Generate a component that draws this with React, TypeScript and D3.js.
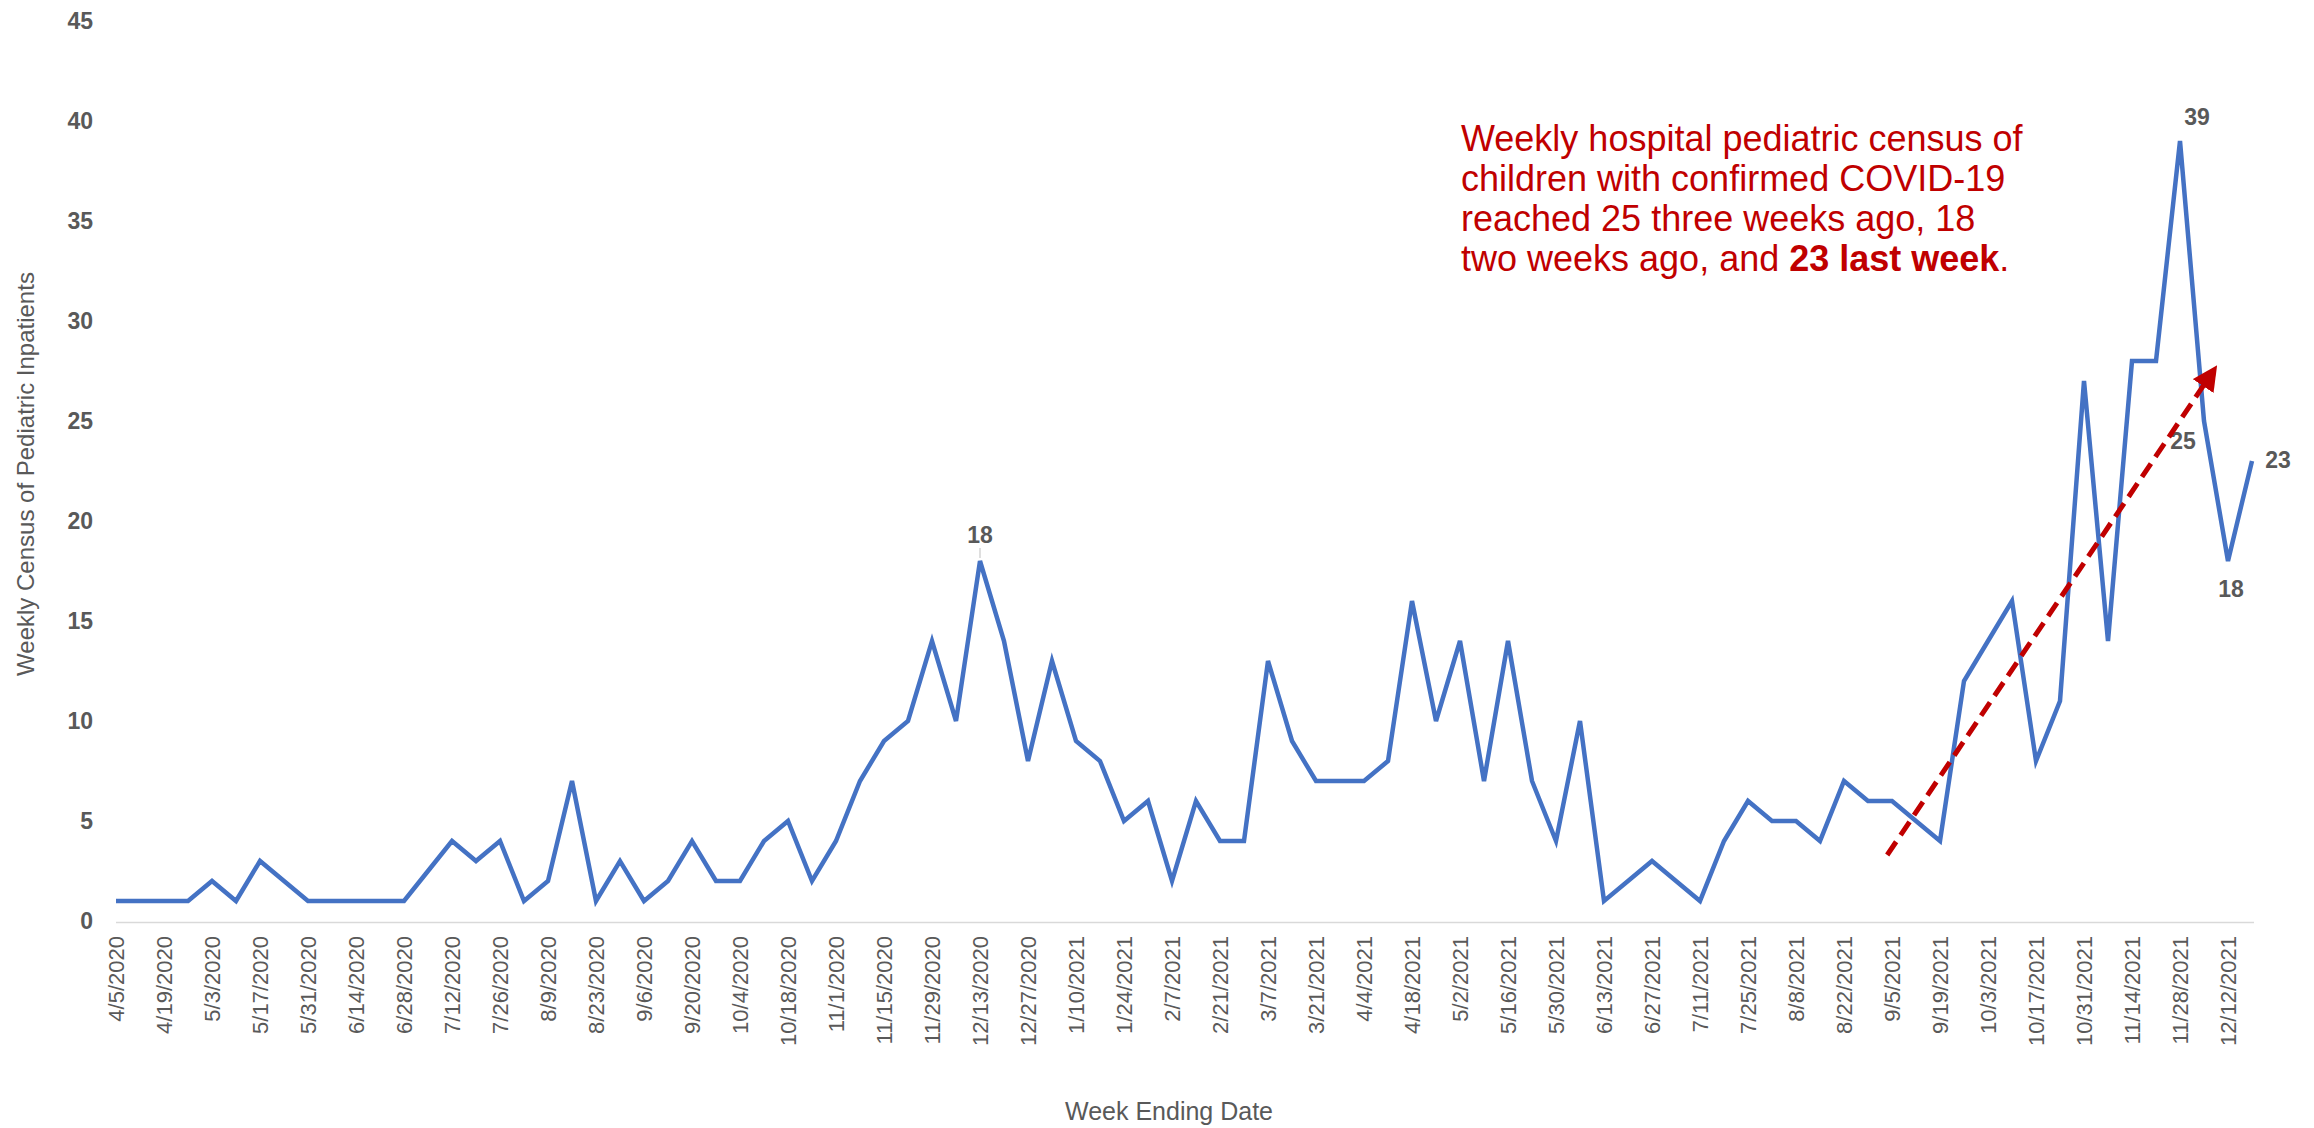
import React, { useEffect, useRef } from 'react';
import * as d3 from 'd3';

// first week ending date, weekly categories
const FIRST_WEEK = Date.UTC(2020, 3, 5);
const WEEK_COUNT = 90;

// weekly census of pediatric inpatients
const census = [
  1, 1, 1, 1, 2, 1, 3, 2, 1, 1, 1, 1, 1, 2.5, 4, 3, 4, 1, 2, 7,
  1, 3, 1, 2, 4, 2, 2, 4, 5, 2, 4, 7, 9, 10, 14, 10, 18, 14, 8, 13,
  9, 8, 5, 6, 2, 6, 4, 4, 13, 9, 7, 7, 7, 8, 16, 10, 14, 7, 14, 7,
  4, 10, 1, 2, 3, 2, 1, 4, 6, 5, 5, 4, 7, 6, 6, 5, 4, 12, 14, 16,
  8, 11, 27, 14, 28, 28, 39, 25, 18, 23,
];

const yTicks = [0, 5, 10, 15, 20, 25, 30, 35, 40, 45];

// which points carry a value label, and where it sits
const labeled = [
  { idx: 36, dx: 0, dy: -26 },
  { idx: 86, dx: 17, dy: -24 },
  { idx: 87, dx: -21, dy: 20 },
  { idx: 88, dx: 3, dy: 28 },
  { idx: 89, dx: 26, dy: -1 },
];

// trend arrow, in (week index, census) units
const trendFrom = [73.8, 3.3];
const trendTo = [87.5, 27.7];

const noteLines = [
  'Weekly hospital pediatric census of',
  'children with confirmed COVID-19',
  'reached 25 three weeks ago, 18',
];

const GRAY = '#595959';
const RED = '#C00000';

const App = () => {
  const ref = useRef(null);

  const graph = () => {
    const svg = d3.select(ref.current);
    svg.selectAll('*').remove();

    const fmt = d3.utcFormat('%-m/%-d/%Y');
    const weeks = d3.range(WEEK_COUNT).map((i) => fmt(new Date(FIRST_WEEK + i * 7 * 864e5)));

    const x = d3.scalePoint().domain(weeks).range([116, 2252]);
    const y = d3.scaleLinear().domain([0, 45]).range([921, 21]);
    const xi = (i) => x(weeks[0]) + i * x.step();

    // axis line
    svg.append('line')
      .attr('x1', 116).attr('x2', 2254)
      .attr('y1', y(0) + 1.5).attr('y2', y(0) + 1.5)
      .attr('stroke', '#d9d9d9').attr('stroke-width', 1.5);

    // y tick labels
    svg.append('g')
      .selectAll('text')
      .data(yTicks)
      .enter().append('text')
      .attr('x', 93)
      .attr('y', (d) => y(d))
      .attr('dy', '0.36em')
      .attr('text-anchor', 'end')
      .style('font-family', 'Liberation Sans, Arial, sans-serif')
      .style('font-size', '23px')
      .style('font-weight', 'bold')
      .attr('fill', GRAY)
      .text((d) => d);

    // x tick labels, every other week
    svg.append('g')
      .selectAll('text')
      .data(weeks.filter((d, i) => i % 2 === 0))
      .enter().append('text')
      .attr('transform', (d) => `translate(${x(d)},936)rotate(-90)`)
      .attr('dy', '0.35em')
      .attr('text-anchor', 'end')
      .style('font-family', 'Liberation Sans, Arial, sans-serif')
      .style('font-size', '22px')
      .attr('fill', GRAY)
      .text((d) => d);

    // axis titles
    svg.append('text')
      .attr('transform', 'translate(34,474)rotate(-90)')
      .attr('text-anchor', 'middle')
      .style('font-family', 'Liberation Sans Narrow, Arial Narrow, Liberation Sans, sans-serif')
      .style('font-size', '24px')
      .attr('fill', GRAY)
      .text('Weekly Census of Pediatric Inpatients');

    svg.append('text')
      .attr('x', 1169).attr('y', 1120)
      .attr('text-anchor', 'middle')
      .style('font-family', 'Liberation Sans, Arial, sans-serif')
      .style('font-size', '25px')
      .attr('fill', GRAY)
      .text('Week Ending Date');

    // census line
    const line = d3.line()
      .x((d, i) => x(weeks[i]))
      .y((d) => y(d));

    svg.append('path')
      .datum(census)
      .attr('d', line)
      .attr('fill', 'none')
      .attr('stroke', '#4472C4')
      .attr('stroke-width', 4.5)
      .attr('stroke-linejoin', 'miter');

    // value labels
    svg.append('line')
      .attr('x1', x(weeks[36])).attr('x2', x(weeks[36]))
      .attr('y1', y(census[36]) - 13).attr('y2', y(census[36]) - 3)
      .attr('stroke', '#bfbfbf').attr('stroke-width', 1);

    svg.append('g')
      .selectAll('text')
      .data(labeled)
      .enter().append('text')
      .attr('x', (d) => x(weeks[d.idx]) + d.dx)
      .attr('y', (d) => y(census[d.idx]) + d.dy)
      .attr('dy', '0.36em')
      .attr('text-anchor', 'middle')
      .style('font-family', 'Liberation Sans, Arial, sans-serif')
      .style('font-size', '23px')
      .style('font-weight', 'bold')
      .attr('fill', GRAY)
      .text((d) => census[d.idx]);

    // dashed trend arrow
    const defs = svg.append('defs');
    defs.append('marker')
      .attr('id', 'arrowHead')
      .attr('viewBox', '0 0 10 10')
      .attr('refX', 2).attr('refY', 5)
      .attr('markerWidth', 5).attr('markerHeight', 5)
      .attr('markerUnits', 'strokeWidth')
      .attr('orient', 'auto')
      .append('path')
      .attr('d', 'M0,0L10,5L0,10Z')
      .attr('fill', RED);

    const x1 = xi(trendFrom[0]), y1 = y(trendFrom[1]);
    const x2 = xi(trendTo[0]), y2 = y(trendTo[1]);
    const len = Math.hypot(x2 - x1, y2 - y1);
    const back = 18;
    svg.append('line')
      .attr('x1', x1).attr('y1', y1)
      .attr('x2', x2 - (x2 - x1) / len * back)
      .attr('y2', y2 - (y2 - y1) / len * back)
      .attr('stroke', RED)
      .attr('stroke-width', 5)
      .attr('stroke-dasharray', '16,8')
      .attr('marker-end', 'url(#arrowHead)');

    // note
    const note = svg.append('text')
      .style('font-family', 'Liberation Sans, Arial, sans-serif')
      .style('font-size', '36px')
      .attr('fill', RED);
    noteLines.forEach((t, i) => {
      note.append('tspan').attr('x', 1461).attr('y', 151 + i * 40).text(t);
    });
    note.append('tspan').attr('x', 1461).attr('y', 271).text('two weeks ago, and ');
    note.append('tspan').style('font-weight', 'bold').text('23 last week');
    note.append('tspan').text('.');
  };

  useEffect(() => graph());

  return (
    <svg
      ref={ref}
      width="2314"
      height="1128"
      style={{ position: 'absolute', left: 0, top: 0, background: '#fff' }}
    ></svg>
  );
};

export default App;
